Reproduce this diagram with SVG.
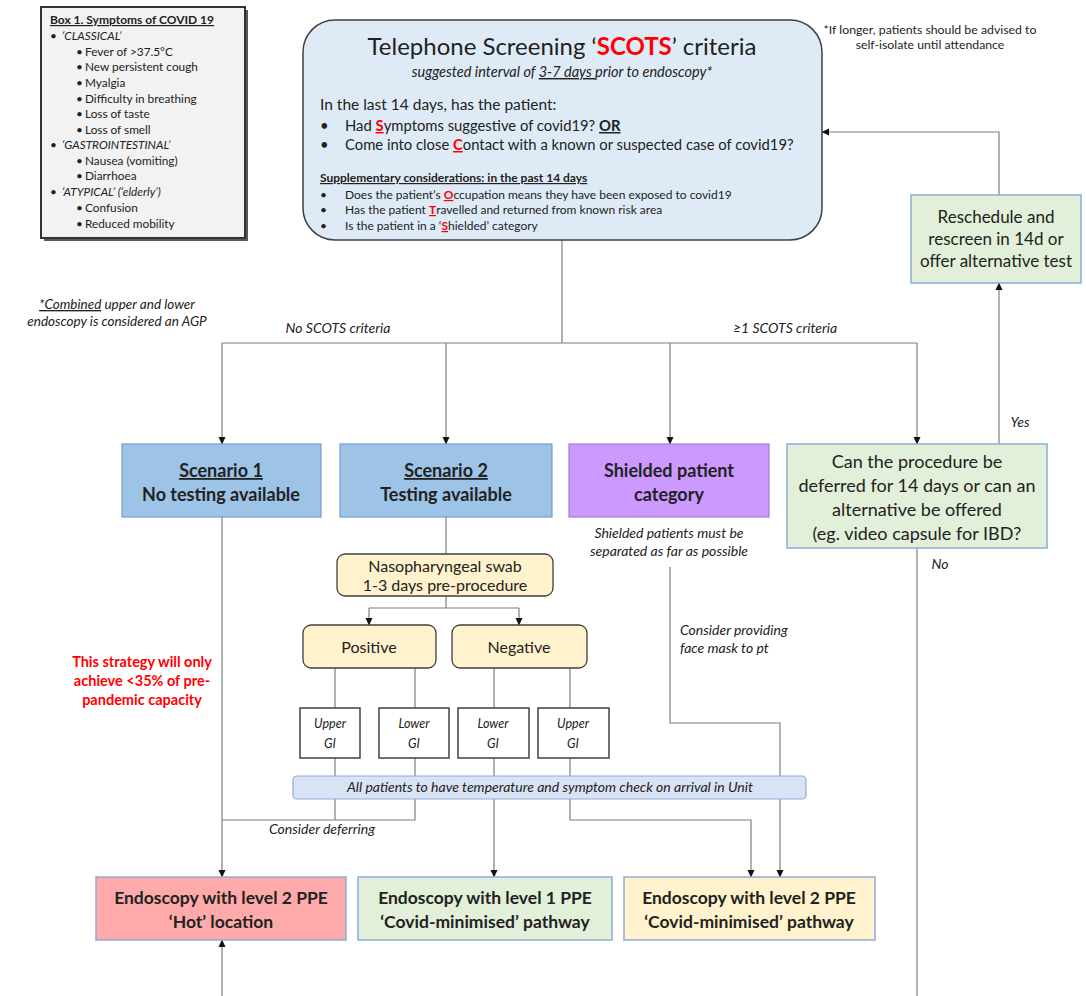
<svg xmlns="http://www.w3.org/2000/svg" width="1086" height="996" viewBox="0 0 1086 996">
<defs>
<marker id="arr" markerWidth="8" markerHeight="8" refX="7" refY="4" orient="auto" markerUnits="userSpaceOnUse">
<path d="M0,0.5 L7.5,4 L0,7.5 Z" fill="#111"/>
</marker>
<style>
text{font-family:Lato,"Noto Sans",sans-serif;fill:#222}
.c{text-anchor:middle}
.i{font-style:italic}
.b{font-weight:bold}
.u{text-decoration:underline}
.red{fill:#ff0000}
.conn path{fill:none;stroke:#7f7f7f;stroke-width:1.2}
.a{marker-end:url(#arr)}
.blue{fill:#9dc3e6;stroke:#6f9fcf;stroke-width:1.2}
.grn{fill:#e2efd9;stroke:#8eaadb;stroke-width:1.5}
.yel{fill:#fff2cc;stroke:#404040;stroke-width:1.3}
.gi{fill:#fff;stroke:#404040;stroke-width:1.5}
</style>
</defs>
<rect width="1086" height="996" fill="#fff"/>

<g class="conn">
<path d="M562,240 V343"/>
<path d="M222,343 H917"/>
<path class="a" d="M222,343 V444"/>
<path class="a" d="M446,343 V444"/>
<path class="a" d="M670,343 V444"/>
<path class="a" d="M917,343 V444"/>
<path class="a" d="M999,444 V283"/>
<path class="a" d="M999,195 V132 H822"/>
<path d="M917,548 V996"/>
<path class="a" d="M222,517 V877"/>
<path d="M446,517 V554"/>
<path d="M446,596 V608"/>
<path d="M369,608 H519"/>
<path class="a" d="M369,608 V625"/>
<path class="a" d="M519,608 V625"/>
<path d="M335,668 V708"/>
<path d="M415,668 V708"/>
<path d="M494,668 V708"/>
<path d="M570,668 V708"/>
<path d="M335,758 V820"/>
<path d="M415,758 V820 H222"/>
<path class="a" d="M494,758 V877"/>
<path class="a" d="M570,758 V820 H751 V877"/>
<path class="a" d="M670,567 V723 H780 V877"/>
<path class="a" d="M222,996 V940"/>
</g>

<g id="box1">
<rect x="44" y="10" width="204" height="231" fill="#595959"/>
<rect x="41" y="7" width="204" height="231" fill="#f2f2f2" stroke="#333" stroke-width="2"/>
<text x="50" y="24" class="b u" font-size="12">Box 1. Symptoms of COVID 19</text>
<g font-size="11.8">
<text x="50" y="40">•</text><text x="62" y="40" class="i">‘CLASSICAL’</text>
<text x="76" y="56">•</text><text x="85" y="56">Fever of &gt;37.5°C</text>
<text x="76" y="71">•</text><text x="85" y="71">New persistent cough</text>
<text x="76" y="87">•</text><text x="85" y="87">Myalgia</text>
<text x="76" y="103">•</text><text x="85" y="103">Difficulty in breathing</text>
<text x="76" y="118">•</text><text x="85" y="118">Loss of taste</text>
<text x="76" y="134">•</text><text x="85" y="134">Loss of smell</text>
<text x="50" y="149">•</text><text x="62" y="149" class="i">‘GASTROINTESTINAL’</text>
<text x="76" y="165">•</text><text x="85" y="165">Nausea (vomiting)</text>
<text x="76" y="180">•</text><text x="85" y="180">Diarrhoea</text>
<text x="50" y="196">•</text><text x="62" y="196" class="i">‘ATYPICAL’ (‘elderly’)</text>
<text x="76" y="212">•</text><text x="85" y="212">Confusion</text>
<text x="76" y="228">•</text><text x="85" y="228">Reduced mobility</text>
</g>
</g>

<g id="screening">
<rect x="303" y="20" width="519" height="220" rx="32" fill="#deebf7" stroke="#404040" stroke-width="1.5"/>
<text x="562" y="55" class="c" font-size="24">Telephone Screening ‘<tspan class="red b">SCOTS</tspan>’ criteria</text>
<text x="562" y="77" class="c i" font-size="14.5">suggested interval of <tspan class="u">3-7 days </tspan>prior to endoscopy*</text>
<text x="320" y="110" font-size="15.5">In the last 14 days, has the patient:</text>
<text x="320" y="131" font-size="14.8">•</text>
<text x="345" y="131" font-size="14.8">Had <tspan class="red b u">S</tspan>ymptoms suggestive of covid19? <tspan class="b u">OR</tspan></text>
<text x="320" y="150" font-size="14.8">•</text>
<text x="345" y="150" font-size="14.8">Come into close <tspan class="red b u">C</tspan>ontact with a known or suspected case of covid19?</text>
<text x="320" y="182" class="b u" font-size="12">Supplementary considerations: in the past 14 days</text>
<g font-size="12">
<text x="320" y="199">•</text>
<text x="345" y="199">Does the patient’s <tspan class="red b u">O</tspan>ccupation means they have been exposed to covid19</text>
<text x="320" y="214">•</text>
<text x="345" y="214">Has the patient <tspan class="red b u">T</tspan>ravelled and returned from known risk area</text>
<text x="320" y="230">•</text>
<text x="345" y="230">Is the patient in a ‘<tspan class="red b u">S</tspan>hielded’ category</text>
</g>
</g>

<g id="note-top" font-size="12.3">
<text x="930" y="34" class="c">*If longer, patients should be advised to</text>
<text x="930" y="49" class="c">self-isolate until attendance</text>
</g>

<g id="note-agp" font-size="13.5">
<text x="117" y="309" class="c i"><tspan class="u">*Combined</tspan> upper and lower</text>
<text x="117" y="326" class="c i">endoscopy is considered an AGP</text>
</g>

<g id="labels" font-size="14">
<text x="338" y="333" class="c i">No SCOTS criteria</text>
<text x="785" y="333" class="c i">≥1 SCOTS criteria</text>
<text x="1020" y="427" class="c i">Yes</text>
<text x="940" y="569" class="c i">No</text>
<text x="322" y="834" class="c i">Consider deferring</text>
</g>

<g id="reschedule">
<rect x="911" y="195" width="170" height="88" class="grn"/>
<text x="996" y="223" class="c" font-size="17">Reschedule and</text>
<text x="996" y="245" class="c" font-size="17">rescreen in 14d or</text>
<text x="996" y="267" class="c" font-size="17">offer alternative test</text>
</g>

<g id="scenario1">
<rect x="122" y="444" width="199" height="73" class="blue"/>
<text x="221" y="477" class="c b u" font-size="18">Scenario 1</text>
<text x="221" y="501" class="c b" font-size="18">No testing available</text>
</g>

<g id="scenario2">
<rect x="340" y="444" width="212" height="73" class="blue"/>
<text x="446" y="477" class="c b u" font-size="18">Scenario 2</text>
<text x="446" y="501" class="c b" font-size="18">Testing available</text>
</g>

<g id="shielded">
<rect x="569" y="444" width="200" height="73" fill="#cc99ff" stroke="#9f7fd0" stroke-width="1.2"/>
<text x="669" y="477" class="c b" font-size="18">Shielded patient</text>
<text x="669" y="501" class="c b" font-size="18">category</text>
<text x="669" y="538" class="c i" font-size="14">Shielded patients must be</text>
<text x="669" y="556" class="c i" font-size="14">separated as far as possible</text>
<text x="680" y="635" class="i" font-size="14">Consider providing</text>
<text x="680" y="653" class="i" font-size="14">face mask to pt</text>
</g>

<g id="defer">
<rect x="787" y="444" width="260" height="104" class="grn"/>
<g font-size="18">
<text x="917" y="468" class="c">Can the procedure be</text>
<text x="917" y="492" class="c">deferred for 14 days or can an</text>
<text x="917" y="516" class="c">alternative be offered</text>
<text x="917" y="540" class="c">(eg. video capsule for IBD?</text>
</g>
</g>

<g id="warning" font-size="14.5">
<text x="142" y="667" class="c b red">This strategy will only</text>
<text x="142" y="686" class="c b red">achieve &lt;35% of pre-</text>
<text x="142" y="705" class="c b red">pandemic capacity</text>
</g>

<g id="swab">
<rect x="337" y="554" width="216" height="42" rx="8" class="yel"/>
<text x="445" y="572" class="c" font-size="16">Nasopharyngeal swab</text>
<text x="445" y="591" class="c" font-size="16">1-3 days pre-procedure</text>
</g>

<g id="positive">
<rect x="303" y="625" width="133" height="43" rx="8" class="yel"/>
<text x="369" y="653" class="c" font-size="16">Positive</text>
</g>

<g id="negative">
<rect x="452" y="625" width="135" height="43" rx="8" class="yel"/>
<text x="519" y="653" class="c" font-size="16">Negative</text>
</g>

<g id="gi-pos-upper">
<rect x="300" y="708" width="60" height="50" class="gi"/>
<text x="330" y="728" class="c i" font-size="12.5">Upper</text>
<text x="330" y="748" class="c i" font-size="12.5">GI</text>
</g>
<g id="gi-pos-lower">
<rect x="379" y="708" width="70" height="50" class="gi"/>
<text x="414" y="728" class="c i" font-size="12.5">Lower</text>
<text x="414" y="748" class="c i" font-size="12.5">GI</text>
</g>
<g id="gi-neg-lower">
<rect x="458" y="708" width="71" height="50" class="gi"/>
<text x="493" y="728" class="c i" font-size="12.5">Lower</text>
<text x="493" y="748" class="c i" font-size="12.5">GI</text>
</g>
<g id="gi-neg-upper">
<rect x="538" y="708" width="71" height="50" class="gi"/>
<text x="573" y="728" class="c i" font-size="12.5">Upper</text>
<text x="573" y="748" class="c i" font-size="12.5">GI</text>
</g>

<g id="checkbar">
<rect x="293" y="776" width="513" height="23" rx="4" fill="#dae3f3" stroke="#8eaadb" stroke-width="1.2"/>
<text x="550" y="792" class="c i" font-size="14">All patients to have temperature and symptom check on arrival in Unit</text>
</g>

<g id="hot">
<rect x="96" y="877" width="250" height="63" fill="#ffaaaa" stroke="#8eaadb" stroke-width="1.5"/>
<text x="221" y="904" class="c b" font-size="17.5">Endoscopy with level 2 PPE</text>
<text x="221" y="928" class="c b" font-size="17.5">‘Hot’ location</text>
</g>
<g id="level1">
<rect x="358" y="877" width="254" height="63" class="grn"/>
<text x="485" y="904" class="c b" font-size="17.5">Endoscopy with level 1 PPE</text>
<text x="485" y="928" class="c b" font-size="17.5">‘Covid-minimised’ pathway</text>
</g>
<g id="level2">
<rect x="624" y="877" width="251" height="63" fill="#fff2cc" stroke="#8eaadb" stroke-width="1.5"/>
<text x="749" y="904" class="c b" font-size="17.5">Endoscopy with level 2 PPE</text>
<text x="749" y="928" class="c b" font-size="17.5">‘Covid-minimised’ pathway</text>
</g>
</svg>
